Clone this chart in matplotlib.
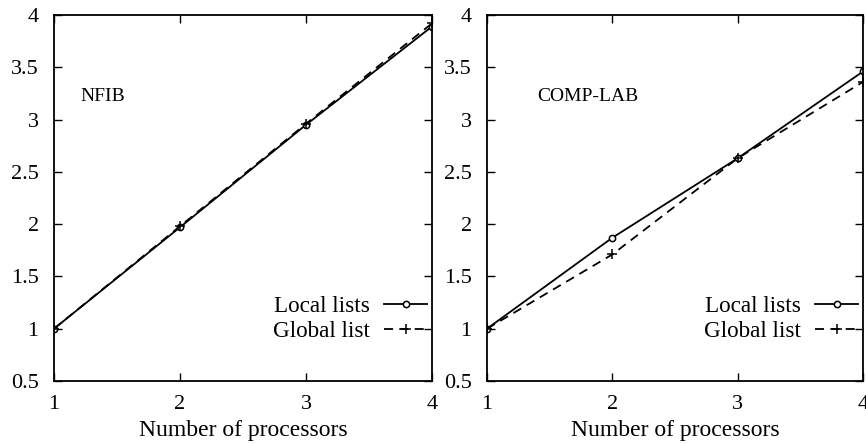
import matplotlib
matplotlib.use('Agg')
from matplotlib import pyplot as plt

plt.rcParams['font.family'] = ['Liberation Serif', 'DejaVu Serif']

processors = [1, 2, 3, 4]

nfib_local = [1.0, 1.97, 2.95, 3.89]
nfib_global = [1.0, 1.98, 2.96, 3.92]

comp_local = [1.0, 1.87, 2.63, 3.46]
comp_global = [1.0, 1.71, 2.63, 3.36]

panels = [
    ('NFIB', nfib_local, nfib_global, (1.21, 3.22)),
    ('COMP-LAB', comp_local, comp_global, (1.40, 3.22)),
]
yticks = [0.5, 1, 1.5, 2, 2.5, 3, 3.5, 4]
ytick_labels = ['0.5', '1', '1.5', '2', '2.5', '3', '3.5', '4']


def draw_panel(ax, name, local, glob, text_pos):
    ax.plot(processors, local, color='black', linestyle='-', linewidth=1.3,
            marker='o', markersize=4.5, markerfacecolor='white',
            markeredgewidth=1.1, label='Local lists')
    ax.plot(processors, glob, color='black', linestyle=(0, (5, 3.5)), linewidth=1.3,
            marker='+', markersize=7, markeredgewidth=1.1, label='Global list')

    ax.set_xlim(1, 4)
    ax.set_ylim(0.5, 4)
    ax.set_xticks(processors)
    ax.set_xticklabels(['1', '2', '3', '4'])
    ax.set_yticks(yticks)
    ax.set_yticklabels(ytick_labels)
    ax.tick_params(direction='in', top=True, right=True, length=6, width=1.0,
                   labelsize=16)
    ax.tick_params(axis='y', pad=11)
    ax.tick_params(axis='x', pad=10)
    for s in ax.spines.values():
        s.set_linewidth(1.3)

    ax.set_xlabel('Number of processors', fontsize=17, labelpad=4.5)
    ax.text(text_pos[0], text_pos[1], name, fontsize=14, va='center', ha='left')

    ax.legend(loc='center right', bbox_to_anchor=(1 - 5 / 378, 0.169), frameon=False,
              markerfirst=False, fontsize=16.7, handlelength=1.85, handletextpad=0.6,
              labelspacing=0.17, numpoints=1, borderaxespad=0, borderpad=0)


fig = plt.figure(figsize=(8.66, 4.44), dpi=100)
ax1 = fig.add_axes([54 / 866, 63 / 444, 378 / 866, 366 / 444])
ax2 = fig.add_axes([487 / 866, 63 / 444, 376 / 866, 366 / 444])

for ax, (name, local, glob, pos) in zip([ax1, ax2], panels):
    draw_panel(ax, name, local, glob, pos)

fig.savefig('out.png', dpi=100)
